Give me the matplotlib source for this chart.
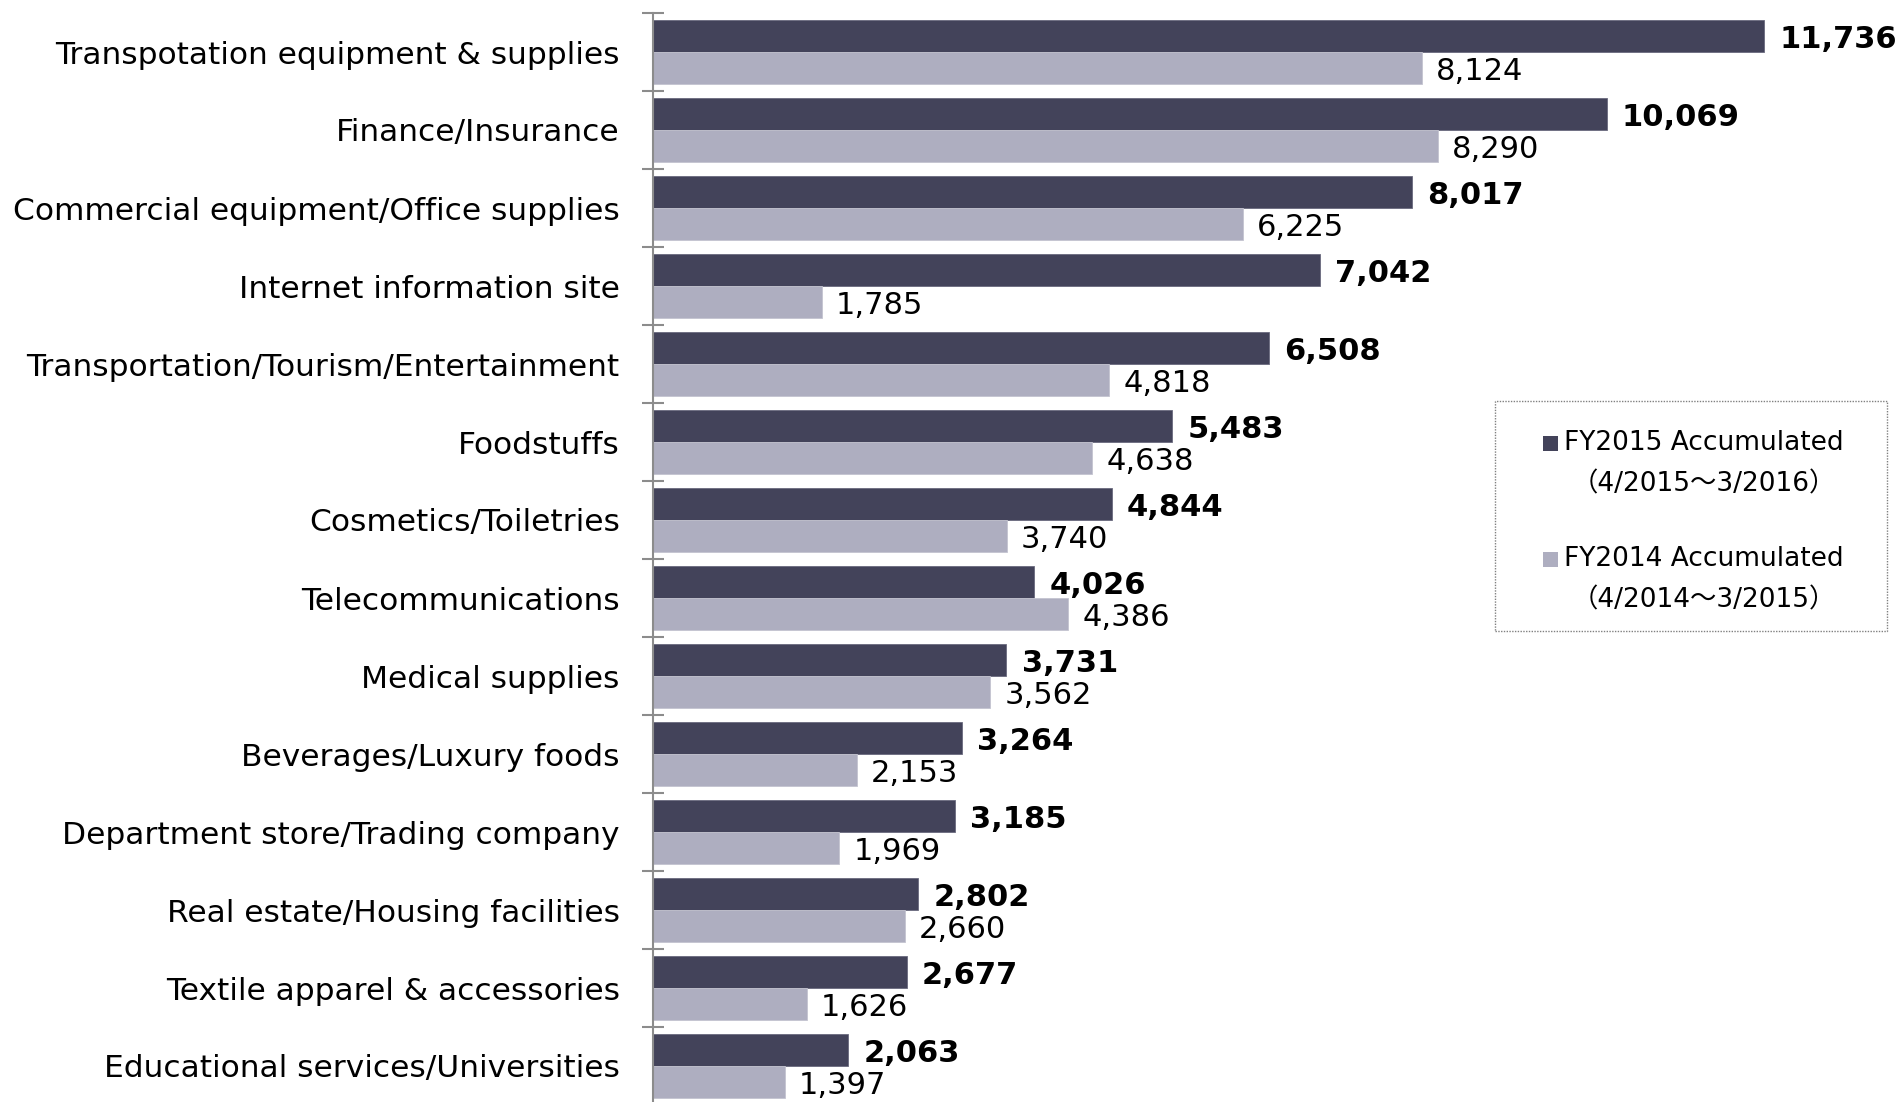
import numpy as np
import matplotlib.pyplot as plt
from matplotlib.patches import Rectangle
from matplotlib.ticker import FixedLocator

categories = ['Transpotation equipment & supplies', 'Finance/Insurance',
              'Commercial equipment/Office supplies', 'Internet information site',
              'Transportation/Tourism/Entertainment', 'Foodstuffs',
              'Cosmetics/Toiletries', 'Telecommunications', 'Medical supplies',
              'Beverages/Luxury foods', 'Department store/Trading company',
              'Real estate/Housing facilities', 'Textile apparel & accessories',
              'Educational services/Universities']
fy2015 = [11736, 10069, 8017, 7042, 6508, 5483, 4844, 4026, 3731, 3264, 3185, 2802, 2677, 2063]
fy2014 = [8124, 8290, 6225, 1785, 4818, 4638, 3740, 4386, 3562, 2153, 1969, 2660, 1626, 1397]
legend_labels = ['FY2015 Accumulated\n（4/2015～3/2016）',
                 'FY2014 Accumulated\n（4/2014～3/2015）']

dark = '#43435a'
light = '#aeaec0'
W, H = 1903, 1102

plt.rcParams['font.family'] = ['DejaVu Sans', 'Noto Sans CJK JP']

fig = plt.figure(figsize=(W / 100, H / 100), dpi=100)
ax = fig.add_axes([653 / W, -3 / H, 1 - 653 / W, 1092 / H])

y = np.arange(len(categories))
h = 0.41
b1 = ax.barh(y - h / 2, fy2015, height=h, color=dark, edgecolor='#6a6a7e', linewidth=0.6)
b2 = ax.barh(y + h / 2, fy2014, height=h, color=light, edgecolor='#c4c4d0', linewidth=0.6)
labs1 = ax.bar_label(b1, fmt='{:,.0f}', padding=11, fontsize=22, fontweight='bold')
labs2 = ax.bar_label(b2, fmt='{:,.0f}', padding=10, fontsize=22)
# value labels sit a touch below the bar centre
for t in labs1 + labs2:
    dx, dy = t.xyann
    t.xyann = (dx, dy - 2.5)

ax.set_xlim(0, 1250 / 0.0947)
ax.set_ylim(len(categories) - 0.5, -0.5)
ax.set_yticks(y)
ax.set_yticklabels(categories, fontsize=22.5)
ax.tick_params(axis='y', which='major', length=0, pad=24)
ax.yaxis.set_minor_locator(FixedLocator(np.arange(len(categories) + 1) - 0.5))
ax.tick_params(axis='y', which='minor', direction='inout', length=16, width=1.5, color='#8c8c8c')
ax.set_xticks([])
for s in ['top', 'right', 'bottom']:
    ax.spines[s].set_visible(False)
ax.spines['left'].set_color('#8c8c8c')
ax.spines['left'].set_linewidth(1.5)

# legend box, drawn by hand so the swatch sits on the first text line
fig.patches.append(Rectangle((1495 / W, 1 - 631 / H), 392 / W, 230 / H,
                             transform=fig.transFigure, facecolor='white',
                             edgecolor='#808080', linestyle=(0, (1, 1)), linewidth=1))
for i, (lab, c) in enumerate(zip(legend_labels, [dark, light])):
    top_line = 443 + i * 116
    fig.patches.append(Rectangle((1543 / W, 1 - (top_line + 7.5) / H), 15 / W, 15 / H,
                                 transform=fig.transFigure, facecolor=c, edgecolor='none'))
    fig.text(1704 / W, 1 - (top_line + 20.5) / H, lab, ha='center', va='center',
             multialignment='center', fontsize=19, linespacing=1.75)

fig.savefig('out.png', dpi=100)
